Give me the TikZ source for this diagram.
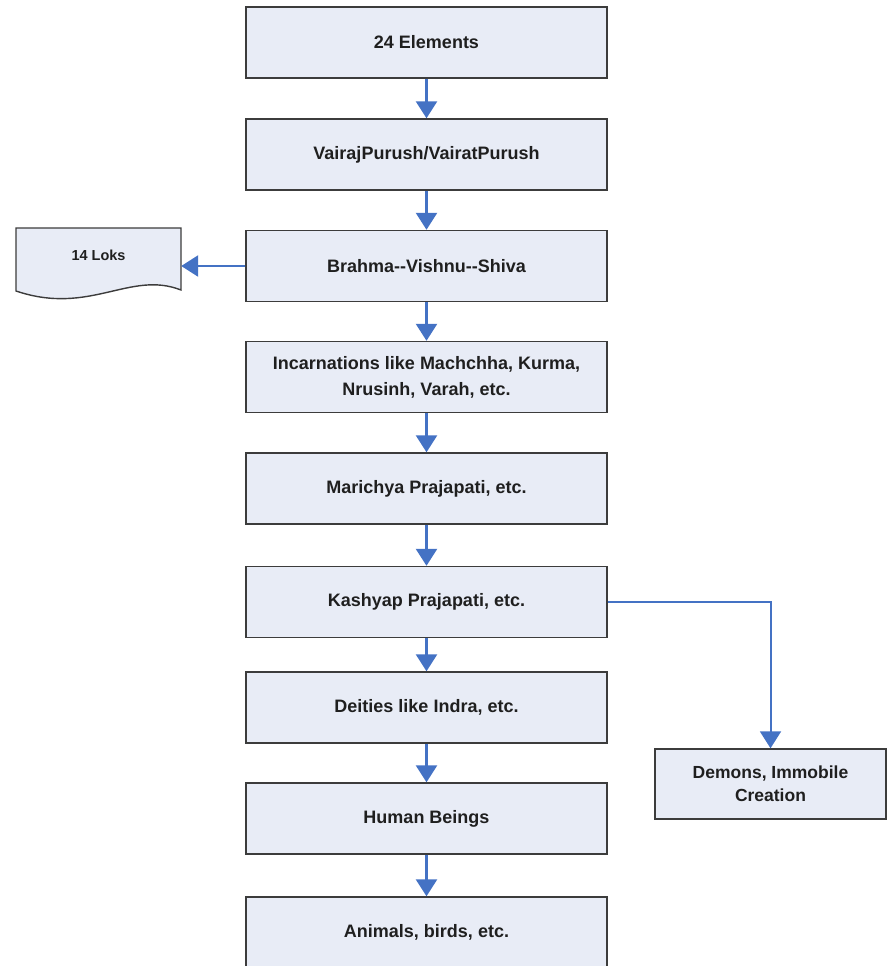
\documentclass[tikz,border=0pt]{standalone}
\usepackage{fontspec}
\setmainfont{Liberation Sans}
\usetikzlibrary{arrows.meta,positioning}

\definecolor{boxfill}{HTML}{E8ECF6}
\definecolor{boxline}{HTML}{3C3C3C}
\definecolor{flow}{HTML}{4472C4}

\begin{document}
\begin{tikzpicture}[
    x=1pt, y=-1pt,
    box/.style={rectangle, draw=boxline, fill=boxfill, line width=1.4pt,
        minimum width=361pt, minimum height=71pt, align=center,
        text=black!88, font=\bfseries\fontsize{18}{26}\selectfont},
    sidebox/.style={box, minimum width=231pt, minimum height=70pt,
        font=\bfseries\fontsize{17.5}{23}\selectfont},
    doc/.style={rectangle, minimum width=165pt, minimum height=54pt,
        text=black!88, font=\bfseries\fontsize{14.5}{17}\selectfont},
    docline/.style={draw=boxline, fill=boxfill, line width=1.4pt},
    arrow/.style={draw=flow, line width=2.6pt,
        -{Triangle[width=21pt,length=17pt]}}
]
\useasboundingbox (0,0) rectangle (886,966);

% Hauptkette
\node[box] (elem)    at (426.5, 42.5)  {24 Elements};
\node[box] (purush)  at (426.5, 154.5) {VairajPurush/VairatPurush};
\node[box] (trinity) at (426.5, 266)   {Brahma-{}-Vishnu-{}-Shiva};
\node[box] (avatar)  at (426.5, 377)   {Incarnations like Machchha, Kurma,\\ Nrusinh, Varah, etc.};
\node[box] (marichi) at (426.5, 488.5) {Marichya Prajapati, etc.};
\node[box] (kashyap) at (426.5, 602)   {Kashyap Prajapati, etc.};
\node[box] (deva)    at (426.5, 707.5) {Deities like Indra, etc.};
\node[box] (human)   at (426.5, 818.5) {Human Beings};
\node[box] (animal)  at (426.5, 932.5) {Animals, birds, etc.};

% Seitenzweig rechts
\node[sidebox] (demon) at (770.5, 784) {Demons, Immobile\\ Creation};

% Dokument links
\draw[docline] (16,228) -- (181,228) -- (181,290)
    .. controls (130,270) and (90,316) .. (16,291) -- cycle;
\node[doc] (loks) at (98.5,255) {14 Loks};

% Pfeile
\draw[arrow] (elem) -- (purush);
\draw[arrow] (purush) -- (trinity);
\draw[arrow] (trinity) -- (avatar);
\draw[arrow] (avatar) -- (marichi);
\draw[arrow] (marichi) -- (kashyap);
\draw[arrow] (kashyap) -- (deva);
\draw[arrow] (deva) -- (human);
\draw[arrow] (human) -- (animal);
\draw[arrow] (trinity.west) -- (trinity.west -| loks.east);
\draw[arrow, line width=2pt] (kashyap.east) -| (demon.north);

\end{tikzpicture}
\end{document}
